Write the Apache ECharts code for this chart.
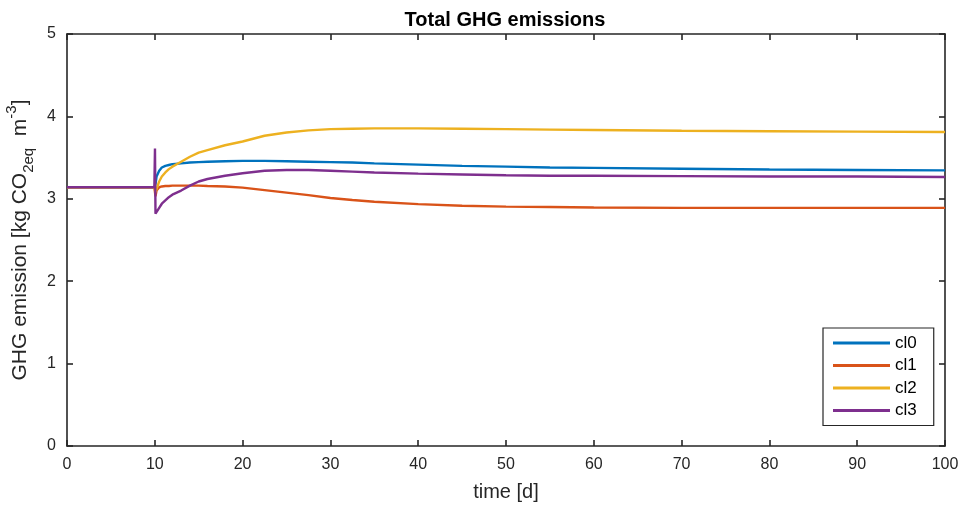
<!DOCTYPE html>
<html>
<head>
<meta charset="utf-8">
<script src="https://cdn.jsdelivr.net/npm/echarts@6/dist/echarts.min.js"></script>
<style>
  html, body { margin: 0; padding: 0; background: #fff; }
  #chart { width: 962px; height: 506px; }
</style>
</head>
<body>
<div id="chart"></div>
<script>
// Simulation time [d]
const time = [0, 9.95, 10.02, 10.08, 10.2, 10.5, 10.8, 11.2, 11.6, 12, 13, 14, 15, 16, 18, 20,
  22.5, 25, 27.5, 30, 32.5, 35, 40, 45, 50, 55, 60, 70, 80, 90, 100];

// Total GHG emission per scenario [kg CO2eq m-3]
const cl0 = [3.14, 3.14, 3.14, 3.18, 3.27, 3.34, 3.38, 3.40, 3.41, 3.42, 3.43, 3.44, 3.445, 3.45, 3.455, 3.46,
  3.46, 3.455, 3.45, 3.445, 3.44, 3.43, 3.415, 3.40, 3.39, 3.38, 3.375, 3.365, 3.355, 3.35, 3.345];
const cl1 = [3.14, 3.14, 3.14, 3.03, 3.10, 3.14, 3.15, 3.155, 3.155, 3.16, 3.16, 3.16, 3.16, 3.155, 3.15, 3.135,
  3.105, 3.075, 3.045, 3.01, 2.985, 2.965, 2.935, 2.915, 2.905, 2.90, 2.895, 2.89, 2.89, 2.89, 2.89];
const cl2 = [3.14, 3.14, 3.14, 3.08, 3.12, 3.21, 3.27, 3.32, 3.36, 3.39, 3.45, 3.51, 3.56, 3.59, 3.65, 3.695,
  3.765, 3.805, 3.83, 3.845, 3.85, 3.855, 3.855, 3.85, 3.845, 3.84, 3.835, 3.825, 3.82, 3.815, 3.81];
const cl3 = [3.14, 3.14, 3.61, 2.82, 2.84, 2.89, 2.94, 2.98, 3.02, 3.05, 3.10, 3.16, 3.21, 3.24, 3.28, 3.31,
  3.34, 3.35, 3.35, 3.34, 3.33, 3.32, 3.305, 3.295, 3.285, 3.28, 3.28, 3.275, 3.27, 3.27, 3.265];

const seriesNames = ['cl0', 'cl1', 'cl2', 'cl3'];
const seriesValues = [cl0, cl1, cl2, cl3];
const colors = ['#0072BD', '#D95319', '#EDB120', '#7E2F8E'];

const xTicks = { min: 0, max: 100, interval: 10 };
const yTicks = { min: 0, max: 5, interval: 1 };

const font = 'Liberation Sans, Arial, Helvetica, sans-serif';
const ink = '#262626';

function boxAxis(extra) {
  return Object.assign({
    type: 'value',
    axisLine: { show: true, onZero: false, lineStyle: { color: ink, width: 1.6 } },
    axisTick: { show: true, inside: true, length: 6, lineStyle: { color: ink, width: 1.6 } },
    splitLine: { show: false },
    axisLabel: { color: ink, fontSize: 16, fontFamily: font }
  }, extra);
}

const chart = echarts.init(document.getElementById('chart'), null, { renderer: 'canvas' });

chart.setOption({
  animation: false,
  color: colors,
  backgroundColor: '#ffffff',
  title: {
    text: 'Total GHG emissions',
    left: 500, top: 5, textAlign: 'center',
    textStyle: { fontFamily: font, fontSize: 20, fontWeight: 'bold', color: '#000' }
  },
  grid: { left: 67, right: 17, top: 34, bottom: 60, containLabel: false, outerBoundsMode: 'none' },
  xAxis: [
    boxAxis(Object.assign({
      position: 'bottom',
      name: 'time [d]', nameLocation: 'middle', nameGap: 36,
      nameTextStyle: { color: ink, fontSize: 20, fontFamily: font },
      axisLabel: { color: ink, fontSize: 16, fontFamily: font, margin: 11 }
    }, xTicks)),
    boxAxis(Object.assign({ position: 'top', axisLabel: { show: false } }, xTicks))
  ],
  yAxis: [
    boxAxis(Object.assign({
      position: 'left',
      name: '{t|GHG emission [kg CO}{sub|2eq}{t|  m}{sup|-3}{t|]}',
      nameLocation: 'middle', nameGap: 29, nameRotate: 90,
      nameTextStyle: {
        color: ink, fontFamily: font,
        rich: {
          t: { fontSize: 21, fontFamily: font, color: ink, lineHeight: 32, verticalAlign: 'middle' },
          sub: { fontSize: 15, fontFamily: font, color: ink, lineHeight: 15, verticalAlign: 'bottom' },
          sup: { fontSize: 15, fontFamily: font, color: ink, lineHeight: 15, verticalAlign: 'top' }
        }
      },
      axisLabel: { color: ink, fontSize: 16, fontFamily: font, margin: 11 }
    }, yTicks)),
    boxAxis(Object.assign({ position: 'right', axisLabel: { show: false } }, yTicks))
  ],
  legend: {
    orient: 'vertical',
    left: 823, top: 328,
    padding: [6, 17, 6, 10],
    itemWidth: 57, itemHeight: 3, itemGap: 4.5,
    icon: 'rect',
    backgroundColor: '#ffffff',
    borderColor: ink, borderWidth: 1.2, borderRadius: 0,
    textStyle: { color: '#000', fontSize: 17, lineHeight: 18, fontFamily: font },
    data: seriesNames
  },
  series: seriesNames.map((name, i) => ({
    name: name,
    type: 'line',
    xAxisIndex: 0, yAxisIndex: 0,
    showSymbol: false,
    smooth: false,
    lineStyle: { width: 2.4, color: colors[i] },
    itemStyle: { color: colors[i] },
    data: time.map((t, k) => [t, seriesValues[i][k]])
  }))
});
</script>
</body>
</html>
